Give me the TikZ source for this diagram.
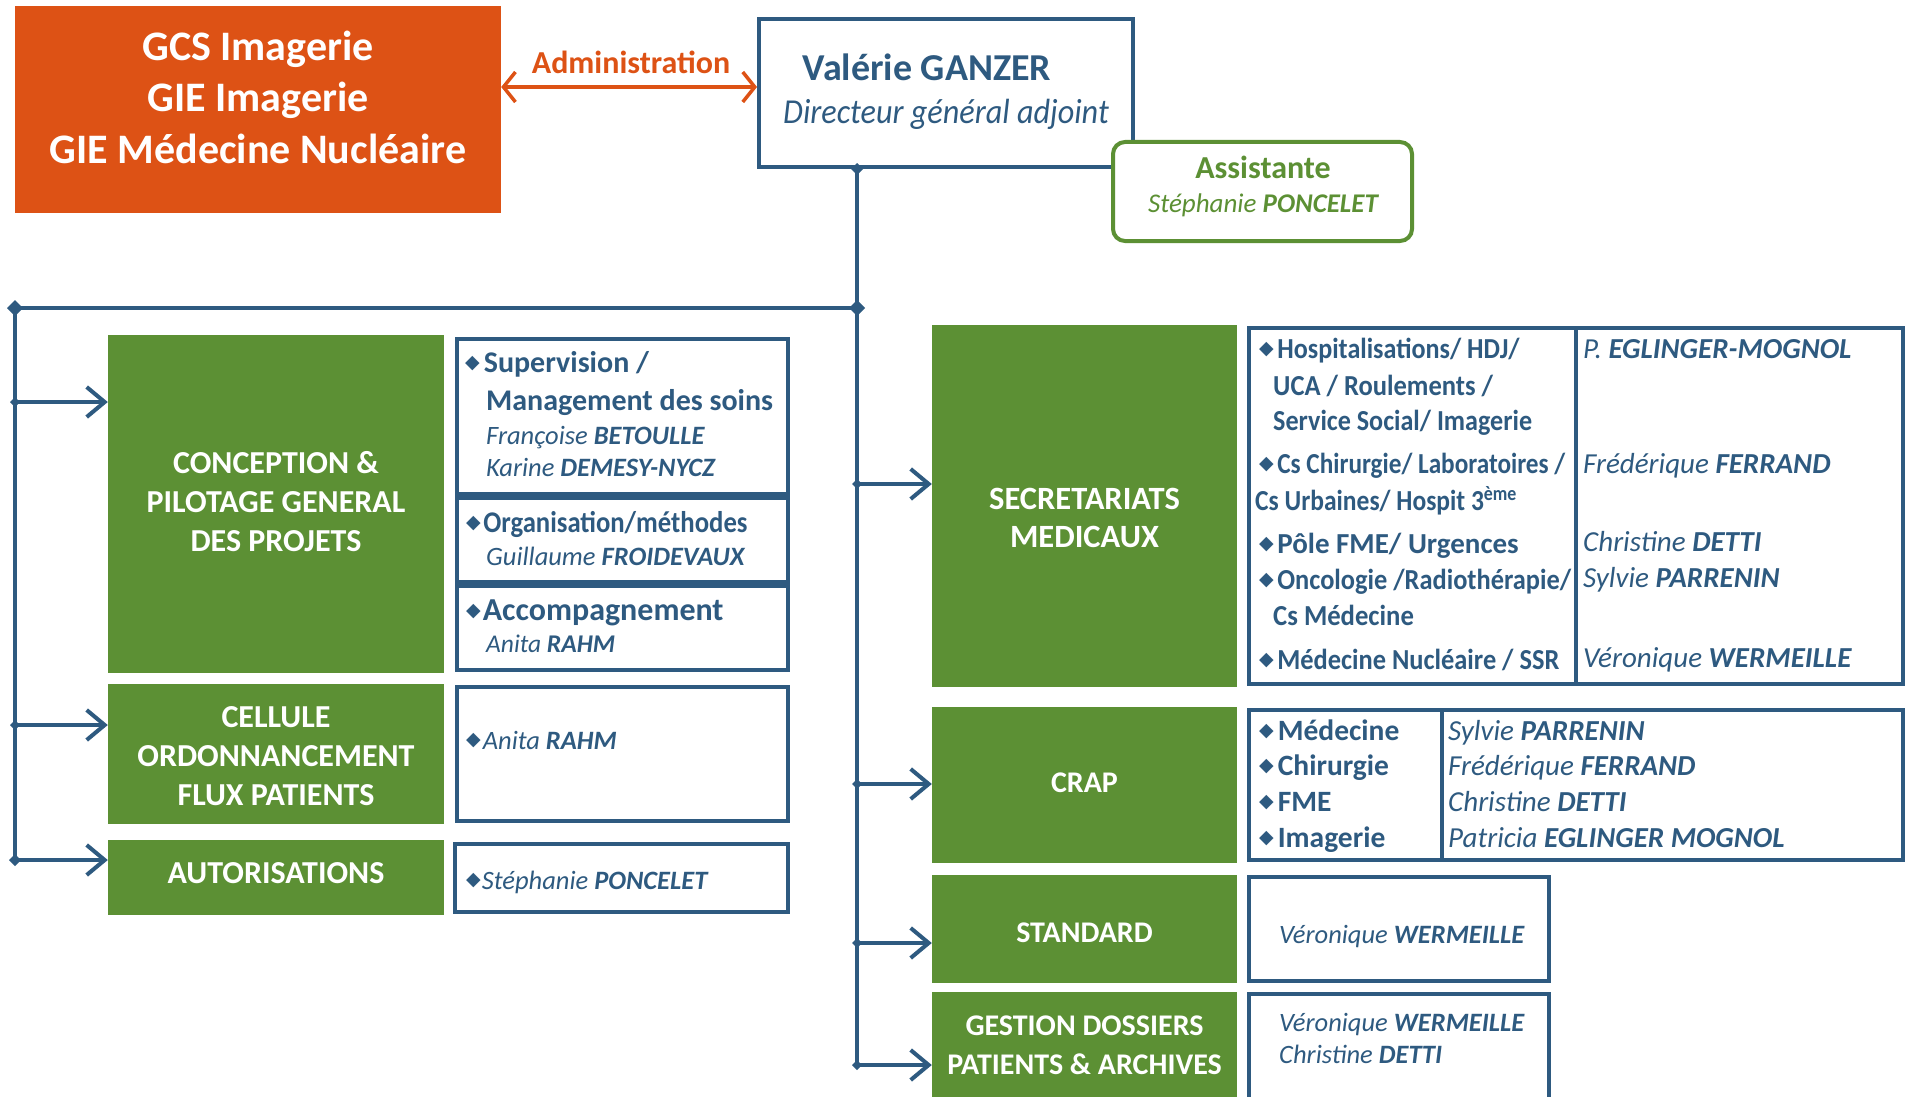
\documentclass[tikz,border=0pt]{standalone}
\usepackage{fontspec}
\setmainfont{Carlito}
\newfontfamily\symf{DejaVu Sans}
\usetikzlibrary{arrows.meta}
\definecolor{cblue}{RGB}{46,90,128}
\definecolor{cgreen}{RGB}{92,144,52}
\definecolor{corange}{RGB}{221,82,21}
\newcommand\fsz[2]{\fontsize{#1}{#2}\selectfont}
\newcommand\bul{\raisebox{4pt}{\symf\fsz{19}{19}◆}}
\newcommand\hs[2]{\scalebox{#1}[1]{#2}}
\newcommand\jdot[2]{\fill[cblue] (#1) ++(-#2,0) -- ++(#2,-#2) -- ++(#2,#2) -- ++(-#2,#2) -- cycle;}
\begin{document}
\begin{tikzpicture}[x=1pt,y=-1pt,
  gbox/.style={fill=cgreen, inner sep=0pt},
  gt/.style={anchor=base, align=center, text=white, font=\fsz{30}{38.5}\bfseries, inner sep=0pt},
  gtl/.style={gt, font=\fsz{32}{39}\bfseries},
  bbox/.style={draw=cblue, line width=4pt, fill=white, inner sep=0pt},
  lbl/.style={anchor=base west, inner sep=0pt, text=cblue},
  bt/.style={lbl, font=\fsz{30}{36}\bfseries},
  nm/.style={lbl, font=\fsz{26.5}{30}\itshape},
  st/.style={lbl, font=\fsz{29}{34}\bfseries},
  nmt/.style={lbl, font=\fsz{29}{32}\itshape},
  ct/.style={lbl, font=\fsz{29.5}{34}\bfseries},
  conn/.style={draw=cblue, line width=4pt},
  arr/.style={conn, -{Straight Barb[length=18pt,width=30pt]}},
]
\clip (0,0) rectangle (1908,1097);
\fill[white] (0,0) rectangle (1908,1097);

% top
\node[fill=corange, minimum width=486pt, minimum height=207pt, inner sep=0pt] (org) at (258,109.5) {};
\node[anchor=base, align=center, text=white, font=\fsz{42}{51.5}\bfseries, inner sep=0pt] (orgt) at (258,163) {GCS Imagerie\\GIE Imagerie\\GIE Médecine Nucléaire};

\node[bbox, minimum width=374pt, minimum height=148pt] (val) at (946,93) {};
\node[anchor=base, inner sep=0pt, text=cblue, font=\fsz{38}{44}\bfseries] (valn) at (927,81) {Valérie GANZER};
\node[anchor=base, inner sep=0pt, text=cblue, font=\fsz{35}{42}\itshape] (valr) at (946,124) {\hs{0.92}{Directeur général adjoint}};

\coordinate (ya) at (0,87);
\draw[draw=corange, line width=3.5pt, {Straight Barb[length=12pt,width=30pt]}-{Straight Barb[length=12pt,width=30pt]}] (org.east |- ya) -- (val.west |- ya);
\node[anchor=base, inner sep=0pt, text=corange, font=\fsz{32}{36}\bfseries] (adm) at (631,74) {Administration};

\node[draw=cgreen, line width=4pt, fill=white, rounded corners=12pt, minimum width=299pt, minimum height=99pt, inner sep=0pt] (asst) at (1262.5,191.5) {};
\node[anchor=base, inner sep=0pt, text=cgreen, font=\fsz{32}{36}\bfseries] (asstt) at (1263,178) {Assistante};
\node[anchor=base, inner sep=0pt, text=cgreen, font=\fsz{27}{30}\itshape] (asstn) at (1263,212) {Stéphanie \textbf{PONCELET}};

% green boxes
\node[gbox, minimum width=336pt, minimum height=338pt] (concep) at (276,504) {};
\node[gtl] (concept) at (276,551) {CONCEPTION \&\\PILOTAGE GENERAL\\DES PROJETS};
\node[gbox, minimum width=336pt, minimum height=140pt] (cell) at (276,753.5) {};
\node[gtl] (cellt) at (276,805) {CELLULE\\ORDONNANCEMENT\\FLUX PATIENTS};
\node[gbox, minimum width=336pt, minimum height=75pt] (auto) at (276,877.5) {};
\node[gtl] (autot) at (276,883) {AUTORISATIONS};

\node[gbox, minimum width=305pt, minimum height=362pt] (sec) at (1084.5,506) {};
\node[gt, font=\fsz{32.5}{38}\bfseries] (sect) at (1084.5,547) {SECRETARIATS\\MEDICAUX};
\node[gbox, minimum width=305pt, minimum height=156pt] (crap) at (1084.5,785) {};
\node[gt] (crapt) at (1084.5,792) {CRAP};
\node[gbox, minimum width=305pt, minimum height=108pt] (std) at (1084.5,929) {};
\node[gt] (stdt) at (1084.5,942) {STANDARD};
\node[gbox, minimum width=305pt, minimum height=118pt] (gest) at (1084.5,1051) {};
\node[gt] (gestt) at (1084.5,1074) {GESTION DOSSIERS\\PATIENTS \& ARCHIVES};

% left lists
\node[bbox, minimum width=331pt, minimum height=155pt] (l1) at (622.5,416.5) {};
\node[bbox, minimum width=331pt, minimum height=84pt] (l2) at (622.5,540) {};
\node[bbox, minimum width=331pt, minimum height=84pt] (l3) at (622.5,628) {};
\node[bbox, minimum width=331pt, minimum height=134pt] (l4) at (622.5,754) {};
\node[bbox, minimum width=333pt, minimum height=68pt] (l5) at (621.5,878) {};

\node[bt] (l1a) at (465,372) {\bul\hspace{4pt}Supervision /};
\node[bt] (l1b) at (486,410) {Management des soins};
\node[nm] (l1c) at (486,444) {Françoise \textbf{BETOULLE}};
\node[nm] (l1d) at (486,476) {Karine \textbf{DEMESY-NYCZ}};
\node[bt] (l2a) at (466,532) {\bul\hspace{2.5pt}\hs{0.89}{Organisation/méthodes}};
\node[nm] (l2b) at (486,565) {Guillaume \textbf{FROIDEVAUX}};
\node[bt, font=\fsz{32}{36}\bfseries] (l3a) at (466,620) {\bul\hspace{2pt}Accompagnement};
\node[nm, font=\fsz{25.5}{30}\itshape] (l3b) at (486,652) {Anita \textbf{RAHM}};
\node[nm] (l4a) at (466,749) {\bul\hspace{2pt}Anita \textbf{RAHM}};
\node[nm] (l5a) at (466,889) {\bul\hspace{1pt}Stéphanie \textbf{PONCELET}};

% right tables
\node[bbox, minimum width=654pt, minimum height=356pt] (secT) at (1576,506) {};
\coordinate (dv1) at (1576,0);
\draw[conn] (secT.north -| dv1) -- (secT.south -| dv1);
\node[bbox, minimum width=654pt, minimum height=150pt] (crapT) at (1576,785) {};
\coordinate (dv2) at (1442,0);
\draw[conn] (crapT.north -| dv2) -- (crapT.south -| dv2);
\node[bbox, minimum width=300pt, minimum height=104pt] (stdT) at (1399,929) {};
\node[bbox, minimum width=300pt, minimum height=119pt] (gestT) at (1399,1053.5) {};

\node[st] (s1) at (1259,358) {\bul\hspace{3.5pt}\hs{0.90}{Hospitalisations/ HDJ/}};
\node[st] (s2) at (1273,395) {\hs{0.915}{UCA / Roulements /}};
\node[st] (s3) at (1273,430) {\hs{0.90}{Service Social/ Imagerie}};
\node[st] (s4) at (1259,473) {\bul\hspace{3.5pt}\hs{0.87}{Cs Chirurgie/ Laboratoires /}};
\node[st] (s5) at (1255,510) {\hs{0.88}{Cs Urbaines/ Hospit 3\textsuperscript{ème}}};
\node[st] (s6) at (1259,553) {\bul\hspace{3.5pt}Pôle FME/ Urgences};
\node[st] (s7) at (1259,589) {\bul\hspace{3.5pt}\hs{0.91}{Oncologie /Radiothérapie/}};
\node[st] (s8) at (1273,625) {\hs{0.92}{Cs Médecine}};
\node[st] (s9) at (1259,669) {\bul\hspace{3.5pt}\hs{0.91}{Médecine Nucléaire / SSR}};

\node[nmt] (n1) at (1583,358) {P. \textbf{EGLINGER-MOGNOL}};
\node[nmt] (n2) at (1583,473) {Frédérique \textbf{FERRAND}};
\node[nmt] (n3) at (1583,551) {Christine \textbf{DETTI}};
\node[nmt] (n4) at (1583,587) {Sylvie \textbf{PARRENIN}};
\node[nmt] (n5) at (1583,667) {Véronique \textbf{WERMEILLE}};

\node[ct] (c1) at (1259,740) {\bul\hspace{4pt}Médecine};
\node[ct] (c2) at (1259,775) {\bul\hspace{4pt}Chirurgie};
\node[ct] (c3) at (1259,811) {\bul\hspace{4pt}FME};
\node[ct] (c4) at (1259,847) {\bul\hspace{4pt}Imagerie};
\node[nmt] (cn1) at (1448,740) {Sylvie \textbf{PARRENIN}};
\node[nmt] (cn2) at (1448,775) {Frédérique \textbf{FERRAND}};
\node[nmt] (cn3) at (1448,811) {Christine \textbf{DETTI}};
\node[nmt] (cn4) at (1448,847) {Patricia \textbf{EGLINGER MOGNOL}};

\node[nm] (sd1) at (1279,943) {Véronique \textbf{WERMEILLE}};
\node[nm] (gd1) at (1279,1031) {Véronique \textbf{WERMEILLE}};
\node[nm] (gd2) at (1279,1063) {Christine \textbf{DETTI}};

% connectors
\coordinate (vtop) at (857,169);
\coordinate (hj) at (857,308);
\coordinate (vbot) at (857,1065);
\coordinate (hl) at (15,308);
\coordinate (lbot) at (15,860);
\draw[conn] (vtop) -- (vbot);
\draw[conn] (hj) -- (hl) -- (lbot);
\coordinate (lj1) at (15,402);
\coordinate (lj2) at (15,725);
\draw[arr] (lj1) -- (lj1 -| concep.west);
\draw[arr] (lj2) -- (lj2 -| cell.west);
\draw[arr] (lbot) -- (lbot -| auto.west);
\coordinate (rj1) at (857,484);
\coordinate (rj2) at (857,784);
\coordinate (rj3) at (857,943);
\draw[arr] (rj1) -- (rj1 -| sec.west);
\draw[arr] (rj2) -- (rj2 -| crap.west);
\draw[arr] (rj3) -- (rj3 -| std.west);
\draw[arr] (vbot) -- (vbot -| gest.west);
\jdot{vtop}{6}
\jdot{hj}{8}
\jdot{hl}{8}
\jdot{lbot}{6}
\jdot{lj1}{5}
\jdot{lj2}{5}
\jdot{rj1}{5}
\jdot{rj2}{5}
\jdot{rj3}{5}
\jdot{vbot}{5}
\end{tikzpicture}
\end{document}
